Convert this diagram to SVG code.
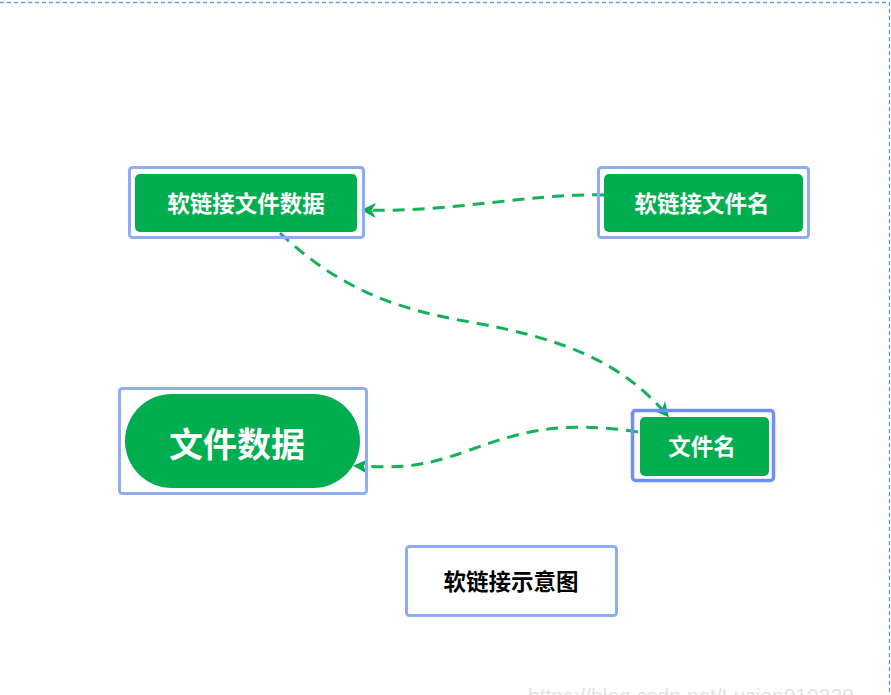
<svg xmlns="http://www.w3.org/2000/svg" width="891" height="695" viewBox="0 0 891 695">
<style>
.frame{fill:none;stroke:#8faaf7;stroke-width:3}
.frame2{fill:none;stroke:#6f8ef8;stroke-width:3.5}
.box{fill:#00ad4f}
.lbl{font-family:"Noto Sans CJK SC","Microsoft YaHei",sans-serif;font-weight:bold;fill:#fff;text-anchor:middle;dominant-baseline:central}
.edge{fill:none;stroke:#14b05a;stroke-width:3;stroke-dasharray:12 8}
.border{fill:none;stroke:#5b9be8;stroke-width:1.3;stroke-dasharray:4 3}
</style>
<defs>
<marker id="arr" viewBox="0 0 10 10" refX="8" refY="5" markerWidth="5" markerHeight="5" orient="auto" markerUnits="strokeWidth">
<path d="M0,0 L10,5 L0,10 L3,5 Z" fill="#00ad4f"/>
</marker>
</defs>
<rect width="891" height="695" fill="#fff"/>
<path class="border" d="M0,2.5 H889.5 V695"/>
<text x="528" y="703" font-family="Liberation Sans,Arial,sans-serif" font-size="21" fill="#e2e2e2">https://blog.csdn.net/Lucien010230</text>
<g id="connectors">
<path class="edge" d="M604,195 C530,193 450,213 364,210" marker-end="url(#arr)"/>
<path class="edge" d="M280,233 C340,290 400,310 470,322 C560,338 620,360 667,415" marker-end="url(#arr)"/>
<path class="edge" d="M638,432 C560,420 520,432 470,450 C420,468 400,468 356,466" marker-end="url(#arr)"/>
</g>
<g id="n1">
<rect class="frame" x="129.5" y="167.5" width="234" height="70" rx="3"/>
<rect class="box" x="135" y="174" width="222" height="58" rx="5"/>
<text class="lbl" x="246" y="202" font-size="22.5">软链接文件数据</text>
</g>
<g id="n2">
<rect class="frame" x="598.5" y="167.5" width="210" height="70" rx="3"/>
<rect class="box" x="604" y="174" width="199" height="58" rx="5"/>
<text class="lbl" x="702" y="202" font-size="22.5">软链接文件名</text>
</g>
<g id="n3">
<rect class="frame" x="119.5" y="388.5" width="247" height="105" rx="3"/>
<rect class="box" x="125" y="394" width="235" height="94" rx="47"/>
<text class="lbl" x="237" y="442" font-size="34">文件数据</text>
</g>
<g id="n4">
<rect class="frame2" x="632.5" y="410.5" width="141" height="70" rx="3"/>
<rect class="box" x="640" y="417" width="129" height="59" rx="5"/>
<text class="lbl" x="702" y="445" font-size="22.5">文件名</text>
</g>
<g id="n5">
<rect class="frame" x="406.5" y="546.5" width="210" height="69" rx="3"/>
<text class="lbl" x="511" y="580" font-size="22.5" style="fill:#000">软链接示意图</text>
</g>
</svg>
